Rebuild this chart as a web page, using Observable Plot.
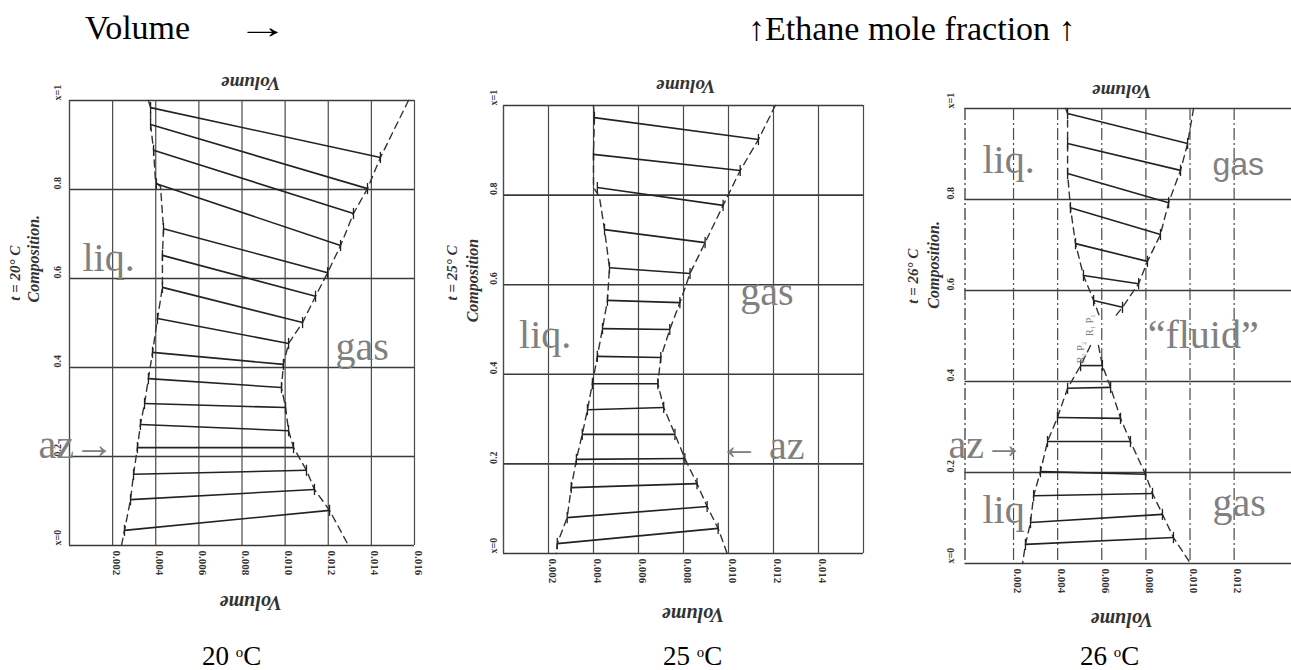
<!DOCTYPE html>
<html><head><meta charset="utf-8">
<script src="https://cdn.jsdelivr.net/npm/d3@7"></script>
<script src="https://cdn.jsdelivr.net/npm/@observablehq/plot@0.6"></script>
<style>
body{margin:0;background:#fff;}
#wrap{position:relative;width:1291px;height:670px;overflow:hidden;font-family:"Liberation Serif",serif;background:#fff;}
.t{position:absolute;white-space:nowrap;color:#000;line-height:1;}
.p{position:absolute;top:0;}
sup{font-size:55%;vertical-align:0.55em;}
</style></head><body><div id="wrap"></div>
<script>
// ---------- data (volume, composition = ethane mole fraction) ----------
const yTicks = [0, 0.2, 0.4, 0.6, 0.8, 1];
const yTickLabels = ["x=0", "0.2", "0.4", "0.6", "0.8", "x=1"];
const xTicks20 = [0.002, 0.004, 0.006, 0.008, 0.010, 0.012, 0.014, 0.016];
const xTicks25 = [0.002, 0.004, 0.006, 0.008, 0.010, 0.012, 0.014];
const xTicks26 = [0.002, 0.004, 0.006, 0.008, 0.010, 0.012];
const panelTitles = ["20", "25", "26"];

// 20 °C tie lines
const tieLiqV20 = [0.00376,0.00376,0.00390,0.00403,0.00436,0.00431,0.00431,0.00408,0.00385,0.00366,0.00348,0.00329,0.00315,0.00297,0.00283,0.00255];
const tieLiqC20 = [0.984,0.946,0.888,0.813,0.712,0.652,0.580,0.510,0.434,0.375,0.319,0.272,0.220,0.160,0.103,0.034];
const tieGasV20 = [0.01442,0.01382,0.01317,0.01257,0.01197,0.01141,0.01081,0.01016,0.00992,0.00983,0.01002,0.01016,0.01039,0.01099,0.01136,0.01206];
const tieGasC20 = [0.872,0.802,0.746,0.674,0.613,0.560,0.501,0.454,0.407,0.355,0.310,0.258,0.220,0.169,0.126,0.079];
// 20 °C boundaries
const liqV20 = [0.00366,0.00376,0.00376,0.00390,0.00399,0.00422,0.00436,0.00431,0.00431,0.00408,0.00385,0.00366,0.00348,0.00329,0.00315,0.00297,0.00283,0.00255,0.00241];
const liqC20 = [1.000,0.984,0.946,0.888,0.816,0.807,0.712,0.652,0.580,0.510,0.434,0.375,0.319,0.272,0.220,0.160,0.103,0.034,0.000];
const gasV20 = [0.01572,0.01442,0.01382,0.01317,0.01257,0.01197,0.01141,0.01081,0.01016,0.00992,0.00983,0.01002,0.01016,0.01039,0.01099,0.01136,0.01206,0.01294];
const gasC20 = [1.000,0.872,0.802,0.746,0.674,0.613,0.560,0.501,0.454,0.407,0.355,0.310,0.258,0.220,0.169,0.126,0.079,0.000];

// 25 °C tie lines
const tieLiqV25 = [0.00404,0.00400,0.00417,0.00449,0.00471,0.00462,0.00440,0.00417,0.00395,0.00373,0.00350,0.00324,0.00301,0.00283,0.00239];
const tieLiqC25 = [0.973,0.891,0.817,0.723,0.638,0.565,0.502,0.440,0.379,0.321,0.266,0.210,0.147,0.080,0.022];
const tieGasV25 = [0.01133,0.01052,0.00976,0.00896,0.00829,0.00784,0.00739,0.00699,0.00686,0.00712,0.00762,0.00806,0.00860,0.00905,0.00954];
const tieGasC25 = [0.924,0.855,0.777,0.694,0.625,0.560,0.500,0.4375,0.379,0.326,0.266,0.212,0.156,0.105,0.056];
// 25 °C boundaries
const liqV25 = [0.00400,0.00404,0.00400,0.00400,0.00426,0.00449,0.00471,0.00462,0.00440,0.00417,0.00395,0.00373,0.00350,0.00324,0.00301,0.00283,0.00239,0.00234];
const liqC25 = [1.000,0.973,0.891,0.817,0.797,0.723,0.638,0.565,0.502,0.440,0.379,0.321,0.266,0.210,0.147,0.080,0.022,0.000];
const gasV25 = [0.01208,0.01133,0.01052,0.00976,0.00896,0.00829,0.00784,0.00739,0.00699,0.00686,0.00712,0.00762,0.00806,0.00860,0.00905,0.00954,0.00994];
const gasC25 = [1.000,0.924,0.855,0.777,0.694,0.625,0.560,0.500,0.4375,0.379,0.326,0.266,0.212,0.156,0.105,0.056,0.000];

// 26 °C tie lines (upper and lower two-phase regions)
const tieLiqV26 = [0.00445,0.00445,0.00445,0.00458,0.00481,0.00517,0.00563, 0.00504,0.00445,0.00399,0.00354,0.00322,0.00291,0.00277,0.00254];
const tieLiqC26 = [0.989,0.923,0.857,0.782,0.703,0.633,0.578, 0.435,0.385,0.321,0.268,0.202,0.149,0.090,0.042];
const tieGasV26 = [0.00989,0.00957,0.00903,0.00866,0.00807,0.00767,0.00694, 0.00603,0.00640,0.00685,0.00730,0.00798,0.00830,0.00875,0.00925];
const tieGasC26 = [0.923,0.864,0.793,0.723,0.664,0.615,0.563, 0.435,0.387,0.319,0.268,0.196,0.154,0.108,0.057];
// 26 °C boundaries
const liqUpV26 = [0.00436,0.00445,0.00445,0.00445,0.00458,0.00481,0.00517,0.00563,0.00594];
const liqUpC26 = [1.000,0.989,0.923,0.857,0.782,0.703,0.633,0.578,0.538];
const gasUpV26 = [0.01016,0.00989,0.00957,0.00903,0.00866,0.00807,0.00767,0.00694,0.00653];
const gasUpC26 = [1.000,0.923,0.864,0.793,0.723,0.664,0.615,0.563,0.538];
const liqLoV26 = [0.00549,0.00504,0.00445,0.00399,0.00354,0.00322,0.00291,0.00277,0.00254,0.00241];
const liqLoC26 = [0.479,0.435,0.385,0.321,0.268,0.202,0.149,0.090,0.042,0.000];
const gasLoV26 = [0.00585,0.00603,0.00640,0.00685,0.00730,0.00798,0.00830,0.00875,0.00925,0.01002];
const gasLoC26 = [0.479,0.435,0.387,0.319,0.268,0.196,0.154,0.108,0.057,0.000];

// ---------- helpers ----------
const ties = (Lv, Lc, Gv, Gc) => Lv.map((v, i) => ({x1: v, y1: Lc[i], x2: Gv[i], y2: Gc[i]}));
const pts = (v, c) => v.map((x, i) => ({x, y: c[i]}));
const GRAY = "#808080";
// short vertical serif drawn at each end of a tie line
const serif = {draw(ctx, size) { const h = Math.sqrt(size) * 0.9; ctx.moveTo(0, -h); ctx.lineTo(0, h); }};

function panel(cfg) {
  const ends = cfg.ties.flatMap(d => [{x: d.x1, y: d.y1}, {x: d.x2, y: d.y2}]);
  const marks = [
    Plot.ruleY(yTicks, {stroke: "#3a3a3a", strokeWidth: 1.6}),
    Plot.ruleX(cfg.vgrid, {stroke: "#4a4a4a", strokeWidth: 1.2, strokeDasharray: cfg.vdash}),
    Plot.ruleX([cfg.domain[0]], {stroke: "#4a4a4a", strokeWidth: 1.4, strokeDasharray: cfg.vdash})
  ];
  for (const c of cfg.curves) marks.push(Plot.line(c, {x: "x", y: "y", stroke: "#333", strokeWidth: 1.4, strokeDasharray: "7,5"}));
  marks.push(Plot.link(cfg.ties, {x1: "x1", y1: "y1", x2: "x2", y2: "y2", stroke: "#222", strokeWidth: 1.6}));
  marks.push(Plot.dot(ends, {x: "x", y: "y", symbol: serif, r: 3.5, stroke: "#222", strokeWidth: 1.3, fill: "none"}));
  // tick labels
  marks.push(Plot.text(cfg.xTicks, {x: d => d, frameAnchor: "bottom", text: d => d3.format(".3f")(d), rotate: 90, textAnchor: "start", dy: 5, fontSize: 11, fontWeight: "bold", fill: "#333"}));
  marks.push(Plot.text(yTicks, {y: d => d, frameAnchor: "left", text: (d, i) => yTickLabels[i], rotate: -90, dx: cfg.ytdx, fontSize: 10, fontWeight: "bold", fill: "#333"}));
  // axis titles (italic, like the hand-lettered original)
  marks.push(Plot.text([cfg.tLabel], {y: cfg.tY, frameAnchor: "left", text: d => d, rotate: -90, dx: cfg.tdx, fontSize: 15, fontStyle: "italic", fontWeight: "bold", fill: "#333"}));
  marks.push(Plot.text(["Composition" + cfg.dot], {y: cfg.cY, frameAnchor: "left", text: d => d, rotate: -90, dx: cfg.cdx, fontSize: 16, fontStyle: "italic", fontWeight: "bold", fill: "#333"}));
  marks.push(Plot.text(["Volume"], {x: cfg.volTop, frameAnchor: "top", text: d => d, rotate: 180, dy: cfg.volTopDy, fontSize: 19, fontStyle: "italic", fontWeight: "bold", fill: "#333"}));
  marks.push(Plot.text(["Volume"], {x: cfg.volBot[0], frameAnchor: "bottom", text: d => d, rotate: 180, dy: cfg.volBot[1], fontSize: 20, fontStyle: "italic", fontWeight: "bold", fill: "#333"}));
  // region annotations
  for (const a of cfg.notes) {
    marks.push(Plot.text([a], {x: "v", y: "c", text: "t", textAnchor: "start", lineAnchor: "bottom", fontSize: a.fs || 40, fontFamily: a.ff || "Liberation Serif", fill: GRAY, rotate: a.r || 0}));
  }
  return Plot.plot({
    width: cfg.width, height: 670,
    marginLeft: cfg.ml, marginRight: cfg.mr, marginTop: cfg.mt, marginBottom: 670 - cfg.bottom,
    x: {domain: cfg.domain, axis: null},
    y: {domain: [0, 1], axis: null},
    style: {fontFamily: "Liberation Serif", overflow: "visible", background: "transparent"},
    marks
  });
}

const wrap = document.getElementById("wrap");
function place(node, left, width) {
  const d = document.createElement("div");
  d.className = "p"; d.style.left = left + "px"; d.style.width = width + "px";
  d.appendChild(node); wrap.appendChild(d);
}

place(panel({
  width: 440, ml: 69, mr: 26, mt: 100, bottom: 545, domain: [0, 0.016],
  vgrid: xTicks20, vdash: null, xTicks: xTicks20, ytdx: -12,
  tLabel: "t = 20° C", tY: 0.55, tdx: -54, cY: 0.546, cdx: -36, dot: ".",
  volTop: 0.0084, volTopDy: -10, volBot: [0.0084, 50],
  curves: [pts(liqV20, liqC20), pts(gasV20, gasC20)],
  ties: ties(tieLiqV20, tieLiqC20, tieGasV20, tieGasC20),
  notes: [
    {v: 0.0006, c: 0.616, t: "liq."},
    {v: 0.01234, c: 0.416, t: "gas"},
    {v: -0.00144, c: 0.196, t: "az→"}
  ]
}), 0, 440);

place(panel({
  width: 440, ml: 63, mr: 17, mt: 105, bottom: 553, domain: [0, 0.016],
  vgrid: xTicks25.concat([0.016]), vdash: null, xTicks: xTicks25, ytdx: -10,
  tLabel: "t = 25° C", tY: 0.565, tdx: -51, cY: 0.516, cdx: -31, dot: "",
  volTop: 0.0081, volTopDy: -12, volBot: [0.00842, 54],
  curves: [pts(liqV25, liqC25), pts(gasV25, gasC25)],
  ties: ties(tieLiqV25, tieLiqC25, tieGasV25, tieGasC25),
  notes: [
    {v: 0.00069, c: 0.458, t: "liq."},
    {v: 0.01052, c: 0.554, t: "gas"},
    {v: 0.00958, c: 0.212, t: "← az"}
  ]
}), 440, 440);

place(panel({
  width: 411, ml: 84.5, mr: 0, mt: 108, bottom: 563, domain: [-0.0002, 0.0146],
  vgrid: xTicks26, vdash: "12,3,2,3", xTicks: xTicks26, ytdx: -14,
  tLabel: "t = 26° C", tY: 0.571, tdx: -52, cY: 0.56, cdx: -31, dot: ".",
  volTop: 0.0069, volTopDy: -10, volBot: [0.0069, 49],
  curves: [pts(liqUpV26, liqUpC26), pts(gasUpV26, gasUpC26), pts(liqLoV26, liqLoC26), pts(gasLoV26, gasLoC26)],
  ties: ties(tieLiqV26, tieLiqC26, tieGasV26, tieGasC26),
  notes: [
    {v: 0.00059, c: 0.859, t: "liq."},
    {v: 0.01102, c: 0.853, t: "gas", ff: "Liberation Sans", fs: 32},
    {v: 0.00808, c: 0.473, t: "“fluid”"},
    {v: -0.00095, c: 0.231, t: "az→"},
    {v: 0.00059, c: 0.088, t: "liq"},
    {v: 0.01102, c: 0.105, t: "gas"},
    {v: 0.00560, c: 0.50, t: "R₁ P₁", fs: 10, r: -90},
    {v: 0.00520, c: 0.44, t: "R₂ P₂", fs: 10, r: -90}
  ]
}), 880, 411);

// ---------- titles ----------
function label(html, left, top, size, extra) {
  const d = document.createElement("div");
  d.className = "t"; d.innerHTML = html;
  d.style.left = left + "px"; d.style.top = top + "px"; d.style.fontSize = size + "px";
  if (extra) Object.assign(d.style, extra);
  wrap.appendChild(d);
}
label("Volume", 85, 11, 34);
label("→", 237, 10, 34, {transform: "scaleX(1.5)", transformOrigin: "left center"});
label("↑Ethane mole fraction ↑", 748, 12, 34);
const titleLeft = [202, 663, 1080];
panelTitles.forEach((t, i) => label(t + " <sup>o</sup>C", titleLeft[i], 643, 27));
</script></body></html>
